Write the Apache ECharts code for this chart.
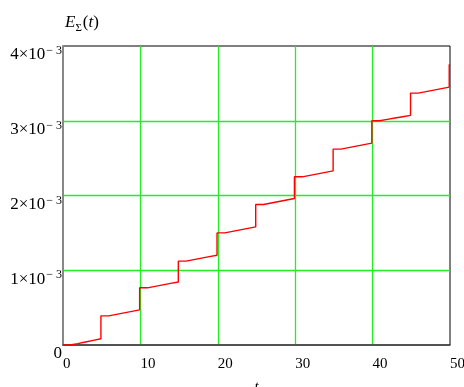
<!DOCTYPE html>
<html>
<head>
<meta charset="utf-8">
<script src="https://cdn.jsdelivr.net/npm/echarts@6/dist/echarts.min.js"></script>
<style>
html,body{margin:0;padding:0;background:#fff;}
#chart{width:464px;height:387px;}
</style>
</head>
<body>
<div id="chart"></div>
<script>
// step times (jump instants) and energy level held from each instant onward
const stepTimes = [0, 0.9, 1.9, 2.9, 3.9, 4.9, 5.9, 6.9, 7.9, 8.9,
  9.9, 10.9, 11.9, 12.9, 13.9, 14.9, 15.9, 16.9, 17.9, 18.9,
  19.9, 20.9, 21.9, 22.9, 23.9, 24.9, 25.9, 26.9, 27.9, 28.9,
  29.9, 30.9, 31.9, 32.9, 33.9, 34.9, 35.9, 36.9, 37.9, 38.9,
  39.9, 40.9, 41.9, 42.9, 43.9, 44.9, 45.9, 46.9, 47.9, 48.9,
  49.9, 50];
const energy = [0, 0.018e-3, 0.040e-3, 0.062e-3, 0.084e-3,
  0.390e-3, 0.410e-3, 0.430e-3, 0.450e-3, 0.470e-3,
  0.765e-3, 0.785e-3, 0.805e-3, 0.825e-3, 0.843e-3,
  1.122e-3, 1.142e-3, 1.162e-3, 1.182e-3, 1.200e-3,
  1.500e-3, 1.520e-3, 1.540e-3, 1.560e-3, 1.580e-3,
  1.880e-3, 1.900e-3, 1.920e-3, 1.940e-3, 1.960e-3,
  2.250e-3, 2.270e-3, 2.290e-3, 2.310e-3, 2.330e-3,
  2.620e-3, 2.640e-3, 2.660e-3, 2.680e-3, 2.700e-3,
  3.000e-3, 3.018e-3, 3.036e-3, 3.054e-3, 3.072e-3,
  3.370e-3, 3.390e-3, 3.410e-3, 3.430e-3, 3.450e-3,
  3.750e-3, 3.750e-3];
const xTicks = [0, 10, 20, 30, 40, 50];
const yTickLabels = {0: '0', 1: '1×10', 2: '2×10', 3: '3×10', 4: '4×10'};
const yExponent = '− 3';

const serif = "'Liberation Serif','Times New Roman',serif";
const chart = echarts.init(document.getElementById('chart'), null, {renderer: 'canvas'});
const seriesData = stepTimes.map((t, i) => [t, energy[i]]);

chart.setOption({
  animation: false,
  backgroundColor: '#fff',
  title: {
    text: '{e|E}{s|Σ}{p|(}{t|t}{p|)}',
    left: 60, top: 8,
    textStyle: {
      fontWeight: 'normal',
      rich: {
        e: {fontFamily: serif, fontSize: 17, fontStyle: 'italic', fontWeight: 'normal', color: '#000', lineHeight: 20},
        s: {fontFamily: serif, fontSize: 11, fontWeight: 'normal', color: '#000', padding: [10, 1, 0, 0], lineHeight: 12},
        p: {fontFamily: serif, fontSize: 17, fontWeight: 'normal', color: '#000', lineHeight: 20},
        t: {fontFamily: serif, fontSize: 17, fontStyle: 'italic', fontWeight: 'normal', color: '#000', lineHeight: 20}
      }
    }
  },
  grid: {left: 63, right: 14, top: 46, bottom: 42, show: true, borderColor: '#000', borderWidth: 1,
    containLabel: false, outerBoundsMode: 'none'},
  xAxis: {
    type: 'value', min: 0, max: 50, interval: 10,
    name: 't', nameLocation: 'middle', nameGap: 35,
    nameTextStyle: {fontFamily: serif, fontSize: 15, fontStyle: 'italic', color: '#000'},
    axisLine: {show: true, onZero: false, lineStyle: {color: '#444', width: 1.5}},
    axisTick: {show: false},
    axisLabel: {fontFamily: serif, fontSize: 15, color: '#000', margin: 12, align: 'left',
      formatter: v => xTicks.includes(v) ? String(v) : ''},
    splitLine: {show: true, showMinLine: false, showMaxLine: false, lineStyle: {color: '#22ee22', width: 1.3}}
  },
  yAxis: {
    type: 'value', min: 0, max: 0.004, interval: 0.001,
    axisLine: {show: true, onZero: false, lineStyle: {color: '#888', width: 2}},
    axisTick: {show: false},
    axisLabel: {
      margin: 1, verticalAlign: 'top', align: 'right',
      formatter: v => {
        const k = Math.round(v * 1000);
        if (k === 0) return '{a|' + yTickLabels[0] + '}';
        return '{a|' + yTickLabels[k] + '}{b|' + yExponent + '}';
      },
      rich: {
        a: {fontFamily: serif, fontSize: 17, color: '#000', lineHeight: 18},
        b: {fontFamily: serif, fontSize: 12, color: '#000', lineHeight: 10, padding: [0, 0, 8, 1]}
      }
    },
    splitLine: {show: true, showMinLine: false, showMaxLine: false, lineStyle: {color: '#22ee22', width: 1.3}}
  },
  series: [{
    type: 'line', data: seriesData, step: 'end', symbol: 'none',
    lineStyle: {color: '#ff0000', width: 1.4}, z: 5
  }]
});
</script>
</body>
</html>
